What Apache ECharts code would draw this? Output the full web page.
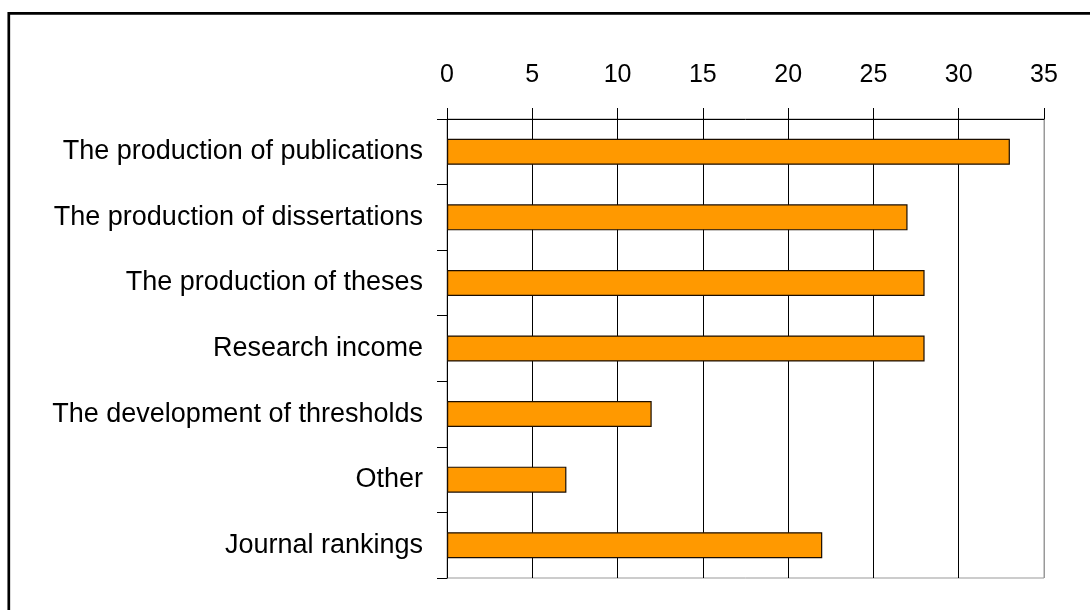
<!DOCTYPE html>
<html>
<head>
<meta charset="utf-8">
<script src="https://cdn.jsdelivr.net/npm/echarts@6/dist/echarts.min.js"></script>
<style>html,body{margin:0;padding:0;background:#fff;}#c{width:1090px;height:610px;}</style>
</head>
<body>
<div id="c"></div>
<script>
const categories = [
  "The production of publications",
  "The production of dissertations",
  "The production of theses",
  "Research income",
  "The development of thresholds",
  "Other",
  "Journal rankings"
];
const values = [33, 27, 28, 28, 12, 7, 22];
const xTicks = [0, 5, 10, 15, 20, 25, 30, 35];

const chart = echarts.init(document.getElementById('c'), null, {renderer: 'canvas'});
chart.setOption({
  animation: false,
  backgroundColor: '#fff',
  textStyle: {fontFamily: 'Liberation Sans, Arial, sans-serif'},
  graphic: [{
    type: 'rect',
    shape: {x: 8.8, y: 13.3, width: 1200, height: 800},
    style: {fill: 'none', stroke: '#000', lineWidth: 2.7},
    silent: true,
    z: 100
  }],
  grid: {
    left: 447, top: 119, right: 46, bottom: 32,
    show: true, borderColor: '#999', borderWidth: 1,
    containLabel: false
  },
  xAxis: {
    type: 'value',
    position: 'top',
    min: xTicks[0],
    max: xTicks[xTicks.length - 1],
    interval: 5,
    axisLine: {show: true, lineStyle: {color: '#000', width: 1}},
    axisTick: {show: true, length: 11, lineStyle: {color: '#000', width: 1}},
    axisLabel: {color: '#000', fontSize: 25, margin: 31, fontFamily: 'Liberation Sans, Arial, sans-serif'},
    splitLine: {show: true, lineStyle: {color: ['#000','#000','#000','#000','#000','#000','#000','#999'], width: 1}}
  },
  yAxis: {
    type: 'category',
    data: categories,
    inverse: true,
    axisLine: {show: true, lineStyle: {color: '#000', width: 1}},
    axisTick: {show: true, length: 10, lineStyle: {color: '#000', width: 1}},
    axisLabel: {color: '#000', fontSize: 27, margin: 24, fontFamily: 'Liberation Sans, Arial, sans-serif'}
  },
  series: [{
    type: 'bar',
    data: values,
    barWidth: 26,
    itemStyle: {color: '#FF9900', borderColor: '#1a0d00', borderWidth: 1.2}
  }]
});
</script>
</body>
</html>
